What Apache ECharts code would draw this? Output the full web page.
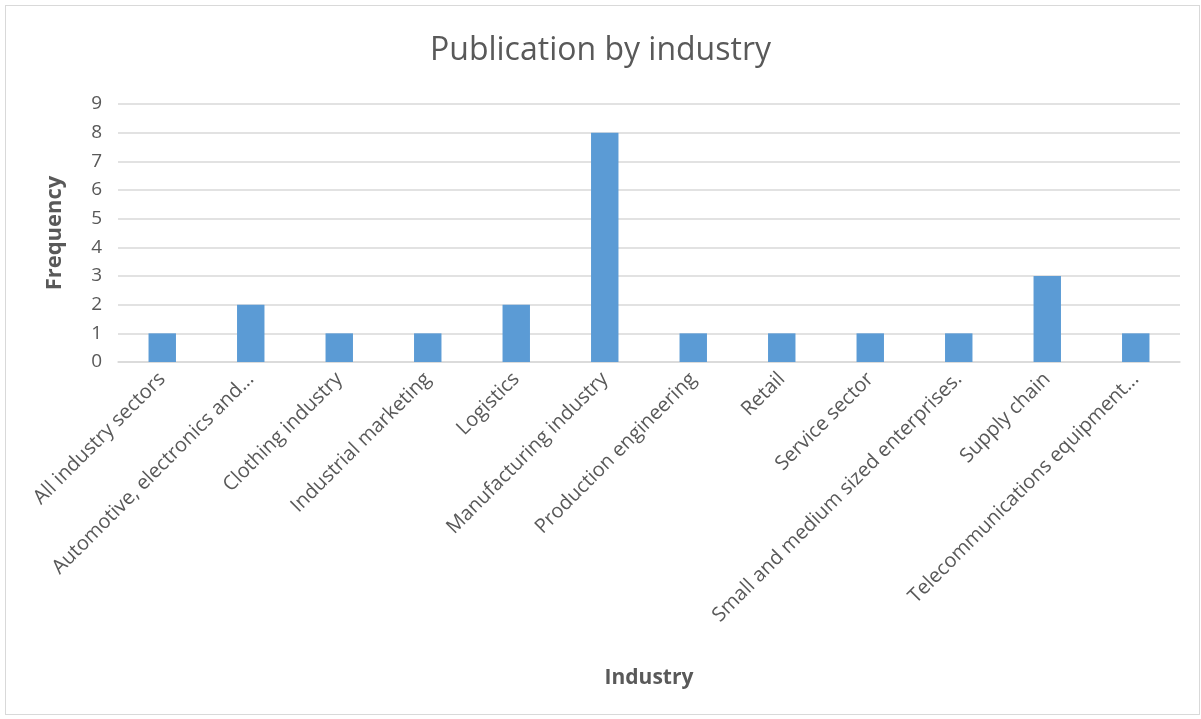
<!DOCTYPE html>
<html>
<head>
<meta charset="utf-8">
<script src="https://cdn.jsdelivr.net/npm/echarts@6/dist/echarts.min.js"></script>
<style>
    html, body { margin: 0; padding: 0; background: #fff; }
    #frame { position: absolute; left: 5px; top: 5px; width: 1195px; height: 710px; border: 1px solid #D9D9D9; box-sizing: border-box; }
    #chart { position: absolute; left: 0; top: 0; width: 1201px; height: 719px; }
</style>
</head>
<body>
<div id="frame"></div>
<div id="chart"></div>
<script>
var industries = [
    'All industry sectors',
    'Automotive, electronics and...',
    'Clothing industry',
    'Industrial marketing',
    'Logistics',
    'Manufacturing industry',
    'Production engineering',
    'Retail',
    'Service sector',
    'Small and medium sized enterprises.',
    'Supply chain',
    'Telecommunications equipment...'
];
var frequency = [1, 2, 1, 1, 2, 8, 1, 1, 1, 1, 3, 1];

var textColor = '#595959';
var fontName = "'Open Sans', sans-serif";

echarts.init(document.getElementById('chart')).setOption({
    animation: false,
    title: {
        text: 'Publication by industry',
        left: 'center',
        top: 30,
        textStyle: { color: textColor, fontSize: 32, fontWeight: 'normal', fontFamily: fontName }
    },
    grid: { left: 118, right: 21, top: 104, bottom: 357, containLabel: false },
    xAxis: {
        type: 'category',
        data: industries,
        name: 'Industry',
        nameLocation: 'middle',
        nameGap: 306,
        nameTextStyle: { color: textColor, fontSize: 21, fontWeight: 'bold', fontFamily: fontName },
        axisLine: { lineStyle: { color: '#D9D9D9', width: 1.5 } },
        axisTick: { show: false },
        axisLabel: {
            rotate: 45,
            interval: 0,
            margin: 14,
            color: textColor,
            fontSize: 20,
            fontFamily: fontName
        }
    },
    yAxis: {
        type: 'value',
        min: 0,
        max: 9,
        interval: 1,
        name: 'Frequency',
        nameLocation: 'middle',
        nameGap: 52,
        nameTextStyle: { color: textColor, fontSize: 22, fontWeight: 'bold', fontFamily: fontName },
        axisLine: { show: false },
        axisTick: { show: false },
        axisLabel: { color: textColor, fontSize: 19, margin: 16, fontFamily: fontName },
        splitLine: { lineStyle: { color: '#D9D9D9', width: 1.5 } }
    },
    series: [{
        type: 'bar',
        data: frequency,
        barWidth: '31%',
        itemStyle: { color: '#5B9BD5' }
    }]
});
</script>
</body>
</html>
